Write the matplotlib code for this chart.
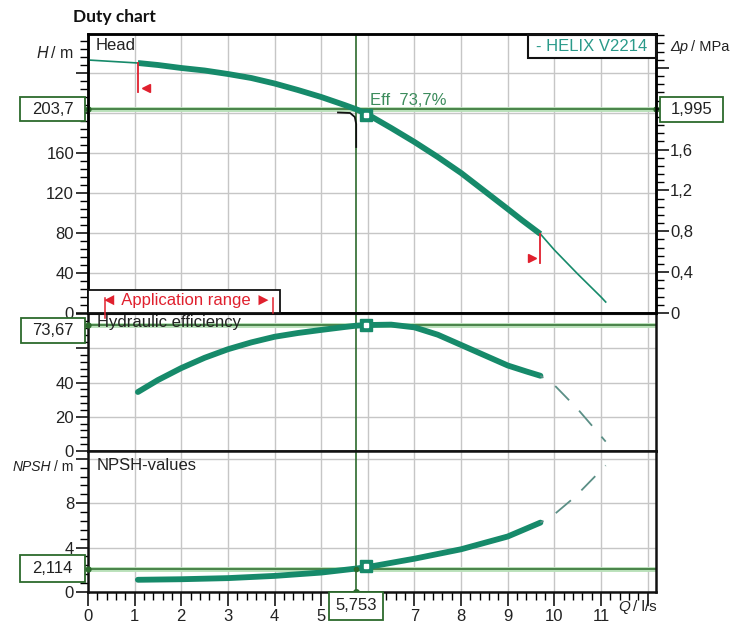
import matplotlib
matplotlib.use("Agg")
import matplotlib.pyplot as plt
from matplotlib.patches import Rectangle
from matplotlib.text import Annotation
from matplotlib.ticker import MultipleLocator, FixedLocator, FixedFormatter

# ---------------- data ----------------
q_head_pre = [0.0, 1.07]
h_head_pre = [253, 250]
q_head = [1.07, 1.5, 2, 2.5, 3, 3.5, 4, 4.5, 5, 5.5, 5.753, 6, 6.5, 7, 7.5, 8, 8.5, 9, 9.3, 9.7]
h_head = [250, 248, 245, 242.5, 239, 235, 229.5, 223, 216, 208, 203.7, 198.5, 185, 171, 156, 140, 122, 104, 93, 79]
q_head_post = [9.7, 10, 10.5, 11, 11.1]
h_head_post = [79, 63, 39, 16, 11]

q_eff = [1.07, 1.5, 2, 2.5, 3, 3.5, 4, 4.5, 5, 5.5, 5.753, 6, 6.5, 7, 7.5, 8, 8.5, 9, 9.4, 9.7]
eff = [34.5, 41.5, 48.5, 54.5, 59.5, 63.5, 66.8, 69, 70.8, 72.5, 73.3, 73.67, 73.9, 72.3, 68, 62, 56, 50, 46.5, 44]
q_eff_post = [9.7, 10, 10.5, 11.1]
eff_post = [44, 38.5, 24.5, 5.5]

q_npsh = [1.07, 2, 3, 4, 5, 5.753, 6, 7, 8, 9, 9.7]
npsh = [1.1, 1.15, 1.25, 1.45, 1.75, 2.114, 2.25, 3.0, 3.85, 5.0, 6.25]
q_npsh_post = [9.7, 10, 10.45, 11.1]
npsh_post = [6.25, 7.0, 8.6, 11.4]

op_q = 5.753
op_h = 203.7
op_dp = 1.995
op_eff = 73.67
op_npsh = 2.114
op_q_label = "5,753"
op_h_label = "203,7"
op_dp_label = "1,995"
op_eff_label = "73,67"
op_npsh_label = "2,114"
eff_text = "Eff  73,7%"

marker_q = 5.95
marker_h = 198.5
marker_eff = 73.67
marker_npsh = 2.3

# system-curve tick near the duty point
sys_q = [5.36, 5.62, 5.72, 5.75, 5.75]
sys_h = [200.5, 200.0, 196, 189, 166]

# application range limits
range_q_min = 1.07
range_q_max = 9.7
range_h_min = [250, 221]
range_h_max = [79, 50]

m_per_mpa = 203.7 / 1.995

x_ticks = list(range(13))
x_tick_labels = ['0', '1', '2', '3', '4', '5', '', '7', '8', '9', '10', '11', '']
h_ticks = [0, 40, 80, 120, 160, 200, 240, 280]
h_tick_labels = ['0', '40', '80', '120', '160', '', '', '']
dp_ticks = [0, 0.4, 0.8, 1.2, 1.6, 2.0, 2.4]
dp_tick_labels = ['0', '0,4', '0,8', '1,2', '1,6', '', '']
eff_ticks = [0, 20, 40, 60, 80]
eff_tick_labels = ['0', '20', '40', '', '']
npsh_ticks = [0, 4, 8, 12]
npsh_tick_labels = ['0', '4', '8', '']

# ---------------- style ----------------
plt.rcParams['font.family'] = ['Liberation Sans', 'DejaVu Sans']
FS = 12
FS_UNIT = 10.5
CURVE = '#168a6a'
DASH = '#5b8f86'
OPLINE = '#2c6a2c'
OPHALO = '#b9e0b9'
GRID = '#c6c6c6'
TXT = '#222222'
RED = '#e0202e'

W, H = 732, 625
fig = plt.figure(figsize=(W / 100, H / 100), dpi=100)
fig.patch.set_facecolor('white')


def fx(px):
    return px / W


def fy(py):
    return 1 - py / H


L, R = 88, 656
ax_h = fig.add_axes([fx(L), fy(313), fx(R - L), (313 - 34) / H])
ax_e = fig.add_axes([fx(L), fy(451), fx(R - L), (451 - 313) / H])
ax_n = fig.add_axes([fx(L), fy(592), fx(R - L), (592 - 451) / H])

XMAX = (R - L) / 46.64

for ax, ticks, labels, minor, ylim in [
        (ax_h, h_ticks, h_tick_labels, 8, (0, 279)),
        (ax_e, eff_ticks, eff_tick_labels, 4, (0, 80.7)),
        (ax_n, npsh_ticks, npsh_tick_labels, 0.8, (0, 12.7))]:
    ax.set_xlim(0, XMAX)
    ax.set_ylim(*ylim)
    ax.xaxis.set_major_locator(FixedLocator(x_ticks))
    ax.xaxis.set_minor_locator(MultipleLocator(0.2))
    ax.yaxis.set_major_locator(FixedLocator(ticks))
    ax.yaxis.set_major_formatter(FixedFormatter(labels))
    ax.yaxis.set_minor_locator(MultipleLocator(minor))
    ax.grid(True, which='major', color=GRID, lw=1.0)
    ax.set_axisbelow(True)
    for s in ax.spines.values():
        s.set_linewidth(1.8)
        s.set_color('#111111')
    ax.tick_params(axis='y', which='major', direction='out', length=9, width=1.1,
                   labelsize=FS, labelcolor=TXT, pad=1)
    ax.tick_params(axis='y', which='minor', direction='out', length=6, width=1.0)
    ax.tick_params(axis='y', right=False, which='both')

for ax in (ax_h, ax_e):
    ax.tick_params(axis='x', which='both', bottom=False, labelbottom=False)

ax_n.xaxis.set_major_formatter(FixedFormatter(x_tick_labels))
ax_n.tick_params(axis='x', which='major', direction='out', length=10, width=1.1,
                 labelsize=FS, labelcolor=TXT, pad=2)
ax_n.tick_params(axis='x', which='minor', direction='out', length=6, width=1.0)

# right Δp axis on the head panel
ax_p = ax_h.twinx()
ax_p.set_ylim(0, 279 / m_per_mpa)
ax_p.yaxis.set_major_locator(FixedLocator(dp_ticks))
ax_p.yaxis.set_major_formatter(FixedFormatter(dp_tick_labels))
ax_p.yaxis.set_minor_locator(MultipleLocator(0.08))
ax_p.tick_params(axis='y', which='major', direction='out', length=9, width=1.1,
                 labelsize=FS, labelcolor=TXT, pad=1)
ax_p.tick_params(axis='y', which='minor', direction='out', length=6, width=1.0)
for s in ax_p.spines.values():
    s.set_linewidth(1.8)

# ---------------- curves ----------------
ax_h.plot(q_head_pre, h_head_pre, color=CURVE, lw=1.2, zorder=3)
ax_h.plot(q_head, h_head, color=CURVE, lw=4.2, solid_capstyle='butt', zorder=3)
ax_h.plot(q_head_post, h_head_post, color=CURVE, lw=1.2, zorder=3)

ax_e.plot(q_eff, eff, color=CURVE, lw=4.2, solid_capstyle='round', zorder=3)
ax_e.plot(q_eff_post, eff_post, color=DASH, lw=1.3, linestyle=(9, (11, 8)), zorder=3)

ax_n.plot(q_npsh, npsh, color=CURVE, lw=4.2, solid_capstyle='round', zorder=3)
ax_n.plot(q_npsh_post, npsh_post, color=DASH, lw=1.3, linestyle=(9, (11, 8)), zorder=3)

# ---------------- duty point lines ----------------
for ax, val in [(ax_h, op_h), (ax_e, op_eff), (ax_n, op_npsh)]:
    ax.axhline(val, color=OPHALO, lw=3.5, zorder=2)
    ax.axhline(val, color=OPLINE, lw=1.1, zorder=2.1)
    ax.plot([0], [val], marker='o', ms=3.5, color=OPLINE, clip_on=False, zorder=6)
ax_h.plot([XMAX], [op_h], marker='o', ms=3.5, color=OPLINE, clip_on=False, zorder=6)
for ax in (ax_h, ax_e, ax_n):
    ax.axvline(op_q, color=OPLINE, lw=1.2, zorder=2.2)
ax_n.plot([op_q], [0], marker='o', ms=4, color=OPLINE, clip_on=False, zorder=6)
ax_n.plot([op_q], [npsh[5]], marker='o', ms=3, color=OPLINE, zorder=6)

# markers on the curves
for ax, yv in [(ax_h, marker_h), (ax_e, marker_eff), (ax_n, marker_npsh)]:
    ax.plot([marker_q], [yv], marker='s', ms=9, color=CURVE, mec=CURVE, zorder=5)
    ax.plot([marker_q], [yv], marker='s', ms=2.5, color='white', mec='white', zorder=5.1)

# system curve tick
ax_h.plot(sys_q, sys_h, color='#111111', lw=1.3, zorder=4)

# Eff label
ax_h.text(marker_q + 0.1, op_h + 1.5, eff_text, color='#3c8c5c', fontsize=FS,
          ha='left', va='bottom', zorder=6)

# application range markers
ax_h.plot([range_q_min, range_q_min], range_h_min, color=RED, lw=1.3, zorder=4)
ax_h.plot([range_q_min + 0.17], [225], marker='<', ms=6, color=RED, zorder=4)
ax_h.plot([range_q_max, range_q_max], range_h_max, color=RED, lw=1.3, zorder=4)
ax_h.plot([range_q_max - 0.17], [55], marker='>', ms=6, color=RED, zorder=4)

# ---------------- boxes & labels ----------------

def fig_y_of(ax, value):
    disp = ax.transData.transform((0, value))
    return fig.transFigure.inverted().transform(disp)[1]


def value_box(fyc, text, x0, x1, h_px, color=OPLINE, tcolor=TXT):
    rect = Rectangle((fx(x0), fyc - h_px / 2 / H), (x1 - x0) / W, h_px / H,
                     transform=fig.transFigure, facecolor='white', edgecolor=color,
                     lw=1.3, zorder=5)
    fig.add_artist(rect)
    fig.text((fx(x0) + fx(x1)) / 2, fyc, text, ha='center', va='center',
             fontsize=FS, color=tcolor, zorder=6)


value_box(fig_y_of(ax_h, op_h), op_h_label, 20, 85, 24)
value_box(fig_y_of(ax_e, op_eff) - 5 / H, op_eff_label, 21, 85, 25)
value_box(fig_y_of(ax_n, op_npsh), op_npsh_label, 20, 85, 27)
value_box(fig_y_of(ax_h, op_h), op_dp_label, 660, 723, 25)
qx = fig.transFigure.inverted().transform(ax_n.transData.transform((op_q, 0)))[0] * W
value_box(fy(606), op_q_label, qx - 27, qx + 27, 28)

# HELIX box
rect = Rectangle((fx(528), fy(58)), (656 - 528) / W, (58 - 35) / H, transform=fig.transFigure,
                 facecolor='white', edgecolor='#111111', lw=1.5, zorder=5)
fig.add_artist(rect)
fig.text(fx(592), fy(46.5), '- HELIX V2214', ha='center', va='center', fontsize=FS,
         color='#2a9a8a', zorder=6)

# Application range box
rect = Rectangle((fx(88), fy(313)), (280 - 88) / W, (313 - 290) / H, transform=fig.transFigure,
                 facecolor='white', edgecolor='#111111', lw=1.3, zorder=5)
fig.add_artist(rect)
fig.text(fx(186), fy(301), '\u25c4 Application range \u25ba', ha='center', va='center',
         fontsize=FS, color=RED, zorder=6)
for xr, y0, y1 in [(105, 298, 318), (273, 298, 313)]:
    fig.add_artist(plt.Line2D([fx(xr), fx(xr)], [fy(y0), fy(y1)], color=RED, lw=1.1,
                              transform=fig.transFigure, zorder=6))

# panel titles
fig.text(fx(96), fy(45), 'Head', ha='left', va='center', fontsize=FS, color=TXT)
fig.text(fx(97), fy(323), 'Hydraulic efficiency', ha='left', va='center', fontsize=FS,
         color=TXT, zorder=3)
fig.text(fx(97), fy(466), 'NPSH-values', ha='left', va='center', fontsize=FS, color=TXT)


# axis unit labels with italic symbols
def unit_label(xpx, ypx, sym, unit, ha, fs=FS_UNIT):
    if ha == 'right':
        t = fig.text(fx(xpx), fy(ypx), unit, ha='right', va='center', fontsize=fs, color=TXT)
        a = Annotation(sym, xy=(0, 0.5), xycoords=t, xytext=(-2, 0), textcoords='offset points',
                       ha='right', va='center', fontsize=fs, color=TXT, fontstyle='italic')
    else:
        t = fig.text(fx(xpx), fy(ypx), sym, ha='left', va='center', fontsize=fs, color=TXT,
                     fontstyle='italic')
        a = Annotation(unit, xy=(1, 0.5), xycoords=t, xytext=(2, 0), textcoords='offset points',
                       ha='left', va='center', fontsize=fs, color=TXT)
    fig.add_artist(a)


unit_label(73, 53, 'H', '/ m', 'right', fs=11.5)
unit_label(73, 467, 'NPSH', '/ m', 'right', fs=10)
unit_label(670, 47, '\u0394p', '/ MPa', 'left', fs=10.5)
unit_label(618, 607, 'Q', '/ l/s', 'left', fs=11)

# title
fig.text(fx(73), fy(17), 'Duty chart', ha='left', va='center', fontsize=12.5,
         fontweight='bold', color='#111111', family=['Lato', 'DejaVu Sans'])

fig.savefig('out.png', dpi=100, facecolor='white')
